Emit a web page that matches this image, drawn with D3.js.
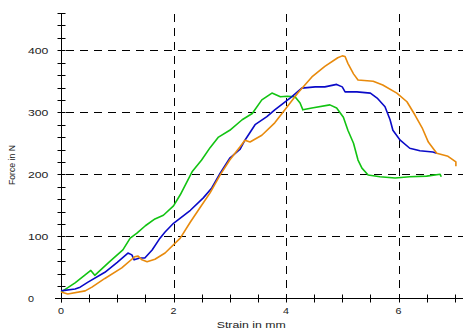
<!DOCTYPE html>
<html>
<head>
<meta charset="utf-8">
<script src="https://cdn.jsdelivr.net/npm/d3@7"></script>
<style>
  html, body { margin: 0; padding: 0; background: #fff; }
  svg { display: block; }
</style>
</head>
<body>
<svg id="chart" width="463" height="329"></svg>
<script>
// ---- data ----
const greenStrain = [0,0.25,0.53,0.6,0.85,1.1,1.23,1.35,1.5,1.67,1.82,2.0,2.12,2.33,2.5,2.65,2.8,3.0,3.22,3.4,3.57,3.75,3.9,4.02,4.16,4.25,4.3,4.46,4.78,4.9,5.02,5.1,5.2,5.28,5.35,5.46,5.67,5.94,6.2,6.5,6.74,6.76];
const greenForce  = [10,25,45,37,58,78,97,105,117,128,134,149,167,204,223,243,260,271,288,298,320,331,325,326,325,315,304,307,312,307,292,271,250,223,210,199,196,194,196,197,200,196];

const blueStrain = [0,0.25,0.34,0.48,0.78,1.0,1.19,1.26,1.3,1.4,1.49,1.62,1.76,1.85,2.0,2.3,2.53,2.68,2.83,3.0,3.18,3.27,3.45,3.66,3.8,4.1,4.28,4.52,4.69,4.9,5.0,5.05,5.26,5.5,5.62,5.76,5.85,5.9,6.03,6.2,6.38,6.61,6.68];
const blueForce  = [12,15,18,26,42,58,73,70,62,65,65,78,97,107,121,142,162,178,202,226,240,255,280,293,304,325,339,341,341,345,341,333,333,331,323,309,288,271,255,242,238,236,234];

const orangeStrain = [0,0.12,0.43,0.55,0.78,1.08,1.31,1.37,1.44,1.53,1.67,1.85,2.12,2.3,2.47,2.65,2.83,3.0,3.18,3.27,3.36,3.57,3.8,3.98,4.21,4.46,4.69,4.92,5.0,5.05,5.1,5.2,5.28,5.55,5.72,5.97,6.15,6.29,6.42,6.53,6.68,6.88,7.02,7.02];
const orangeForce  = [10,7,12,18,32,49,67,68,62,59,63,73,97,123,146,170,199,223,244,255,252,263,283,304,331,357,374,388,391,390,379,362,352,350,344,331,317,296,275,252,234,229,220,213];

const xMajorTicks = [0, 2, 4, 6];
const xMinorTicks = d3.range(0, 7.01, 0.5);
const yMajorTicks = [0, 100, 200, 300, 400];
const yMinorTicks = d3.range(0, 461, 20);
const xTitle = "Strain in mm";
const yTitle = "Force in N";

// ---- chart ----
const svg = d3.select("#chart");
const x = d3.scaleLinear().domain([0, 7.15]).range([61, 463.2]);
const y = d3.scaleLinear().domain([0, 460]).range([298.3, 13.1]);

// grid
const grid = svg.append("g").attr("stroke", "#000").attr("stroke-width", 1).attr("stroke-dasharray", "8,6");
grid.selectAll("line.h").data(yMajorTicks.filter(d => d > 0)).enter().append("line")
  .attr("x1", 66).attr("x2", 463)
  .attr("y1", d => Math.round(y(d)) + 0.5).attr("y2", d => Math.round(y(d)) + 0.5);
grid.selectAll("line.v").data(xMajorTicks.filter(d => d > 0)).enter().append("line")
  .attr("x1", d => Math.round(x(d)) + 0.5).attr("x2", d => Math.round(x(d)) + 0.5)
  .attr("y1", 14).attr("y2", 298);

// y axis
const yAxis = svg.append("g").attr("transform", "translate(61.5,0)")
  .call(d3.axisLeft(y).tickValues(yMinorTicks).tickSize(4).tickFormat(""));
yAxis.select(".domain").attr("d", `M0,${y(460)}V${y(0) + 4}`).attr("stroke", "#000");
yAxis.selectAll(".tick line").attr("x1", 4).attr("stroke", "#000");
yAxis.selectAll(".tick").attr("transform", d => `translate(0,${Math.round(y(d)) + 0.5})`);

// x axis
const xAxis = svg.append("g").attr("transform", "translate(0,298.5)")
  .call(d3.axisBottom(x).tickValues(xMinorTicks).tickSize(4).tickFormat(""));
xAxis.select(".domain").attr("d", `M55,0H463`).attr("stroke", "#000");
xAxis.selectAll(".tick line").attr("y1", -4).attr("stroke", "#000");
xAxis.selectAll(".tick").attr("transform", d => `translate(${Math.round(x(d)) + 0.5},0)`);

// tick labels
const labelFont = "'Liberation Sans', Arial, sans-serif";
svg.append("g").selectAll("text").data(yMajorTicks).enter().append("text")
  .attr("x", 28).attr("y", d => y(d) + 3.2)
  .attr("font-family", labelFont).attr("font-size", 8.5).attr("fill", "#222")
  .attr("textLength", d => String(d).length * 7.2 - 1.2)
  .attr("lengthAdjust", "spacingAndGlyphs")
  .text(d => d);

svg.append("g").selectAll("text").data(xMajorTicks).enter().append("text")
  .attr("x", d => x(d)).attr("y", 314)
  .attr("text-anchor", "middle")
  .attr("font-family", labelFont).attr("font-size", 8.5).attr("fill", "#222")
  .attr("textLength", 6).attr("lengthAdjust", "spacingAndGlyphs")
  .text(d => d);

// axis titles
svg.append("text")
  .attr("x", 216.7).attr("y", 328.3)
  .attr("font-family", labelFont).attr("font-size", 9).attr("fill", "#222")
  .attr("textLength", 69).attr("lengthAdjust", "spacingAndGlyphs")
  .text(xTitle);

svg.append("text")
  .attr("transform", "translate(15,185) rotate(-90)")
  .attr("x", 0).attr("y", 0)
  .attr("font-family", labelFont).attr("font-size", 9).attr("fill", "#222")
  .attr("textLength", 40).attr("lengthAdjust", "spacingAndGlyphs")
  .text(yTitle);

// lines
const line = d3.line().x(d => x(d[0])).y(d => y(d[1]));
const series = [
  { xs: greenStrain, ys: greenForce, color: "#12c312" },
  { xs: blueStrain, ys: blueForce, color: "#0a0ac8" },
  { xs: orangeStrain, ys: orangeForce, color: "#e88a0c" }
];
series.forEach(s => {
  svg.append("path")
    .datum(d3.zip(s.xs, s.ys))
    .attr("fill", "none")
    .attr("stroke", s.color)
    .attr("stroke-width", 1.6)
    .attr("stroke-linejoin", "round")
    .attr("d", line);
});
</script>
</body>
</html>
